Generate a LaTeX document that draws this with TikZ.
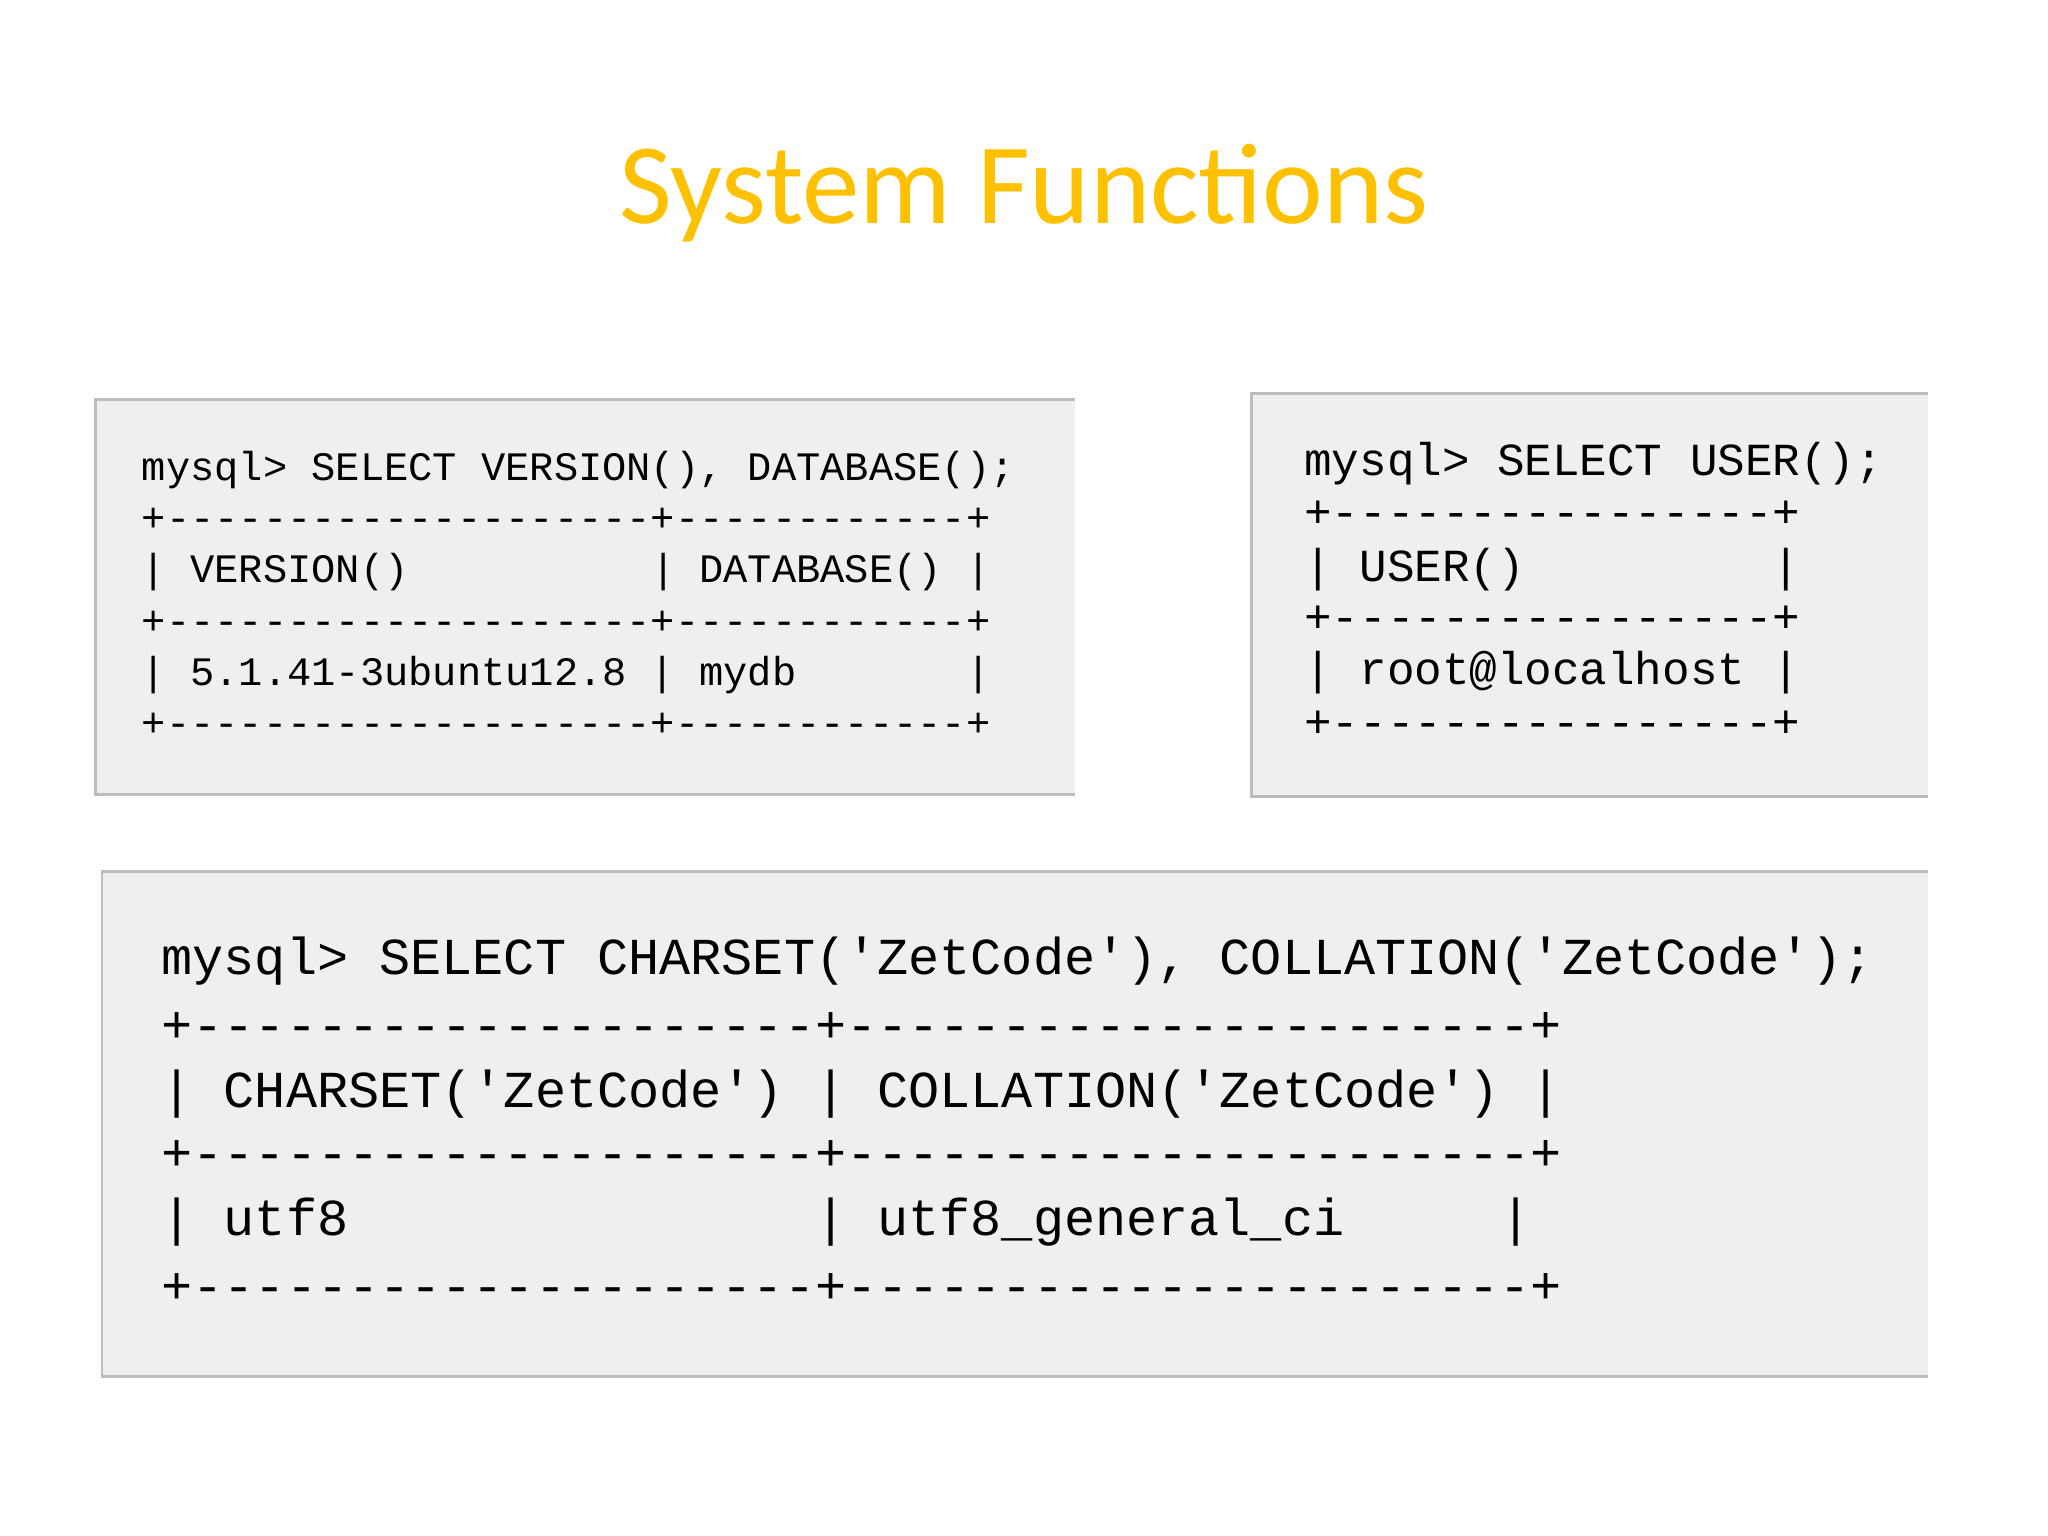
\documentclass[tikz,border=0pt]{standalone}
\usepackage{fontspec}
\setmainfont{Carlito}
\setmonofont{Liberation Mono}
\definecolor{boxfill}{HTML}{EFEFEF}
\definecolor{boxline}{HTML}{BDBDBD}
\definecolor{titleor}{HTML}{FFC000}
\begin{document}
\begin{tikzpicture}[x=0.1mm,y=-0.1mm,
  ln/.style={anchor=base west,inner sep=0pt,font=\ttfamily},
  side/.style={draw=boxline,line width=0.6pt}]
\useasboundingbox (0,0) rectangle (1568,1176);
\node[font=\fontsize{25}{30}\selectfont,text=titleor] (title) at (784,148) {System Functions};
% box 1
\fill[boxfill] (73,306) rectangle (823,608);
\draw[side] (823,306) -- (73,306) -- (73,608) -- (823,608);
\begin{scope}[every node/.style={ln,font=\ttfamily\fontsize{8.8}{10}\selectfont}]
\node (a1) at (108,368) {mysql>~SELECT~VERSION(),~DATABASE();};
\node (a2) at (108,407) {+--------------------+------------+};
\node (a3) at (108,446) {|~VERSION()~~~~~~~~~~|~DATABASE()~|};
\node (a4) at (108,486) {+--------------------+------------+};
\node (a5) at (108,525) {|~5.1.41-3ubuntu12.8~|~mydb~~~~~~~|};
\node (a6) at (108,564) {+--------------------+------------+};
\end{scope}
% box 2
\fill[boxfill] (958,301) rectangle (1476,610);
\draw[side] (1476,301) -- (958,301) -- (958,610) -- (1476,610);
\begin{scope}[every node/.style={ln,font=\ttfamily\fontsize{10}{12}\selectfont}]
\node (b1) at (998,364) {mysql>~SELECT~USER();};
\node (b2) at (998,404) {+----------------+};
\node (b3) at (998,445) {|~USER()~~~~~~~~~|};
\node (b4) at (998,484) {+----------------+};
\node (b5) at (998,524) {|~root@localhost~|};
\node (b6) at (998,565) {+----------------+};
\end{scope}
% box 3
\fill[boxfill] (78,667) rectangle (1476,1054);
\draw[side] (1476,667) -- (78,667) -- (78,1054) -- (1476,1054);
\begin{scope}[every node/.style={ln,font=\ttfamily\fontsize{11.3}{13}\selectfont}]
\node (c1) at (123,746) {mysql>~SELECT~CHARSET('ZetCode'),~COLLATION('ZetCode');};
\node (c2) at (123,798) {+--------------------+----------------------+};
\node (c3) at (123,848) {|~CHARSET('ZetCode')~|~COLLATION('ZetCode')~|};
\node (c4) at (123,896) {+--------------------+----------------------+};
\node (c5) at (123,946) {|~utf8~~~~~~~~~~~~~~~|~utf8\_general\_ci~~~~~|};
\node (c6) at (123,998) {+--------------------+----------------------+};
\end{scope}
\end{tikzpicture}
\end{document}
